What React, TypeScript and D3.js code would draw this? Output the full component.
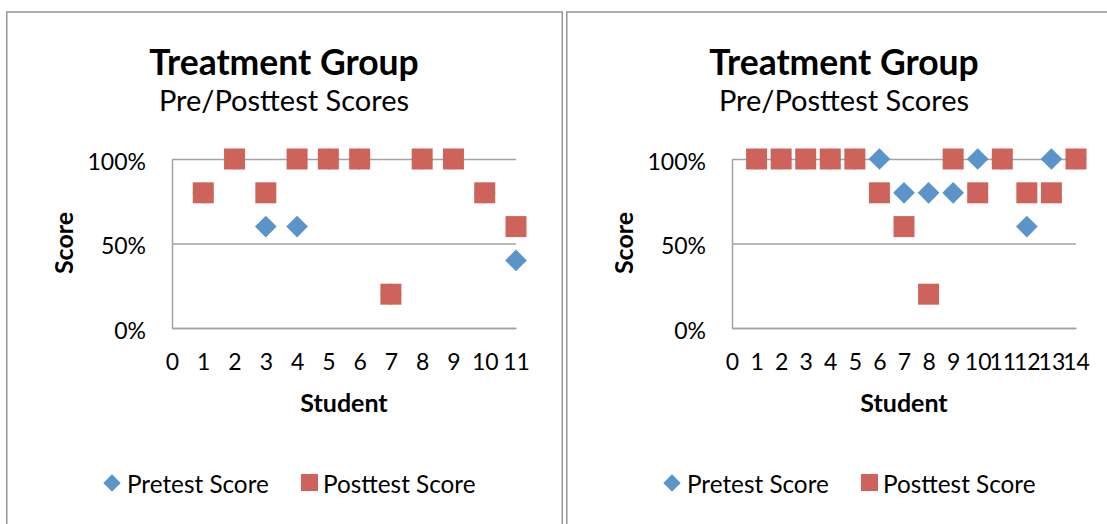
import * as d3 from "d3";
import React, { useEffect, useRef } from "react";

const titleText = "Treatment Group";
const subtitleText = "Pre/Posttest Scores";
const xLabel = "Student";
const yLabel = "Score";
const seriesNames = ["Pretest Score", "Posttest Score"];

// left chart
const studentsA = [1, 2, 3, 4, 5, 6, 7, 8, 9, 10, 11];
const pretestA = [0.8, 1, 0.6, 0.6, 1, 1, 0.2, 1, 1, 0.8, 0.4];
const posttestA = [0.8, 1, 0.8, 1, 1, 1, 0.2, 1, 1, 0.8, 0.6];

// right chart
const studentsB = [1, 2, 3, 4, 5, 6, 7, 8, 9, 10, 11, 12, 13, 14];
const pretestB = [1, 1, 1, 1, 1, 1, 0.8, 0.8, 0.8, 1, 1, 0.6, 1, 1];
const posttestB = [1, 1, 1, 1, 1, 0.8, 0.6, 0.2, 1, 0.8, 1, 0.8, 0.8, 1];

const yTicks = [0, 0.5, 1];

const FONT = "Lato, 'Open Sans', sans-serif";
const BLUE = "#5b93cb";
const RED = "#ce635b";
const GRID = "#a2a2a2";

type Sel = d3.Selection<SVGGElement, unknown, null, undefined>;

const drawChart = (g: Sel, students: number[], pre: number[], post: number[]) => {
  g.append("rect")
    .attr("x", 6.75)
    .attr("y", 12)
    .attr("width", 555.5)
    .attr("height", 600)
    .attr("fill", "#fff")
    .attr("stroke", "#9a9a9a")
    .attr("stroke-width", 1.6);

  g.append("text")
    .attr("x", 284)
    .attr("y", 75)
    .attr("text-anchor", "middle")
    .attr("font-weight", "bold")
    .attr("font-size", 35.5)
    .text(titleText);
  g.append("text")
    .attr("x", 284)
    .attr("y", 111)
    .attr("text-anchor", "middle")
    .attr("font-size", 29)
    .text(subtitleText);

  const xMax = d3.max(students) || 1;
  const x = d3.scaleLinear().domain([0, xMax]).range([172, 516]);
  const y = d3.scaleLinear().domain([0, 1]).range([328, 159]);

  const yAxis = g
    .append("g")
    .attr("transform", "translate(172,0)")
    .call(
      d3
        .axisLeft(y)
        .tickValues(yTicks)
        .tickFormat(d3.format(".0%"))
        .tickSize(-(516 - 172))
        .tickSizeOuter(0)
        .tickPadding(26)
    );
  yAxis.select(".domain").attr("stroke", GRID).attr("stroke-width", 1.5);
  yAxis.selectAll(".tick line").attr("stroke", GRID).attr("stroke-width", 1.5);
  yAxis
    .selectAll(".tick text")
    .attr("font-size", 23)
    .attr("font-family", FONT)
    .attr("fill", "#000")
    .attr("dy", "0.45em");

  const xAxis = g
    .append("g")
    .attr("transform", "translate(0,328)")
    .call(
      d3
        .axisBottom(x)
        .tickValues(d3.range(0, xMax + 1))
        .tickFormat(d3.format("d"))
        .tickSize(0)
        .tickPadding(26)
    );
  xAxis.select(".domain").attr("stroke", GRID).attr("stroke-width", 1.5);
  xAxis
    .selectAll(".tick text")
    .attr("font-size", 23)
    .attr("font-family", FONT)
    .attr("fill", "#000");

  g.append("text")
    .attr("x", 344)
    .attr("y", 412)
    .attr("text-anchor", "middle")
    .attr("font-weight", "bold")
    .attr("font-size", 25)
    .text(xLabel);
  g.append("text")
    .attr("transform", "translate(73,243) rotate(-90)")
    .attr("text-anchor", "middle")
    .attr("font-weight", "bold")
    .attr("font-size", 25)
    .text(yLabel);

  const square = d3.symbol().type(d3.symbolSquare);

  g.append("g")
    .selectAll("path")
    .data(students)
    .join("path")
    .attr("d", square.size(235)() as string)
    .attr("transform", (d, i) => `translate(${x(d)},${y(pre[i])}) rotate(45)`)
    .attr("fill", BLUE);

  g.append("g")
    .selectAll("path")
    .data(students)
    .join("path")
    .attr("d", square.size(441)() as string)
    .attr("transform", (d, i) => `translate(${x(d)},${y(post[i])})`)
    .attr("fill", RED);

  // legend
  g.append("path")
    .attr("d", square.size(150)() as string)
    .attr("transform", "translate(112,483) rotate(45)")
    .attr("fill", BLUE);
  g.append("text")
    .attr("x", 127)
    .attr("y", 493)
    .attr("font-size", 24.3)
    .text(seriesNames[0]);
  g.append("path")
    .attr("d", square.size(289)() as string)
    .attr("transform", "translate(309.5,482.5)")
    .attr("fill", RED);
  g.append("text")
    .attr("x", 323)
    .attr("y", 493)
    .attr("font-size", 24.3)
    .text(seriesNames[1]);
};

const App: React.FC = () => {
  const svgRef = useRef<SVGSVGElement>(null);

  useEffect(() => {
    const svg = d3.select(svgRef.current);
    svg.selectAll("*").remove();
    const left = svg.append("g") as unknown as Sel;
    drawChart(left, studentsA, pretestA, posttestA);
    const right = svg.append("g").attr("transform", "translate(560,0)") as unknown as Sel;
    drawChart(right, studentsB, pretestB, posttestB);
  }, []);

  return (
    <svg
      ref={svgRef}
      width={1107}
      height={524}
      style={{ position: "absolute", left: 0, top: 0, background: "#fff", fontFamily: FONT }}
    />
  );
};

export default App;
